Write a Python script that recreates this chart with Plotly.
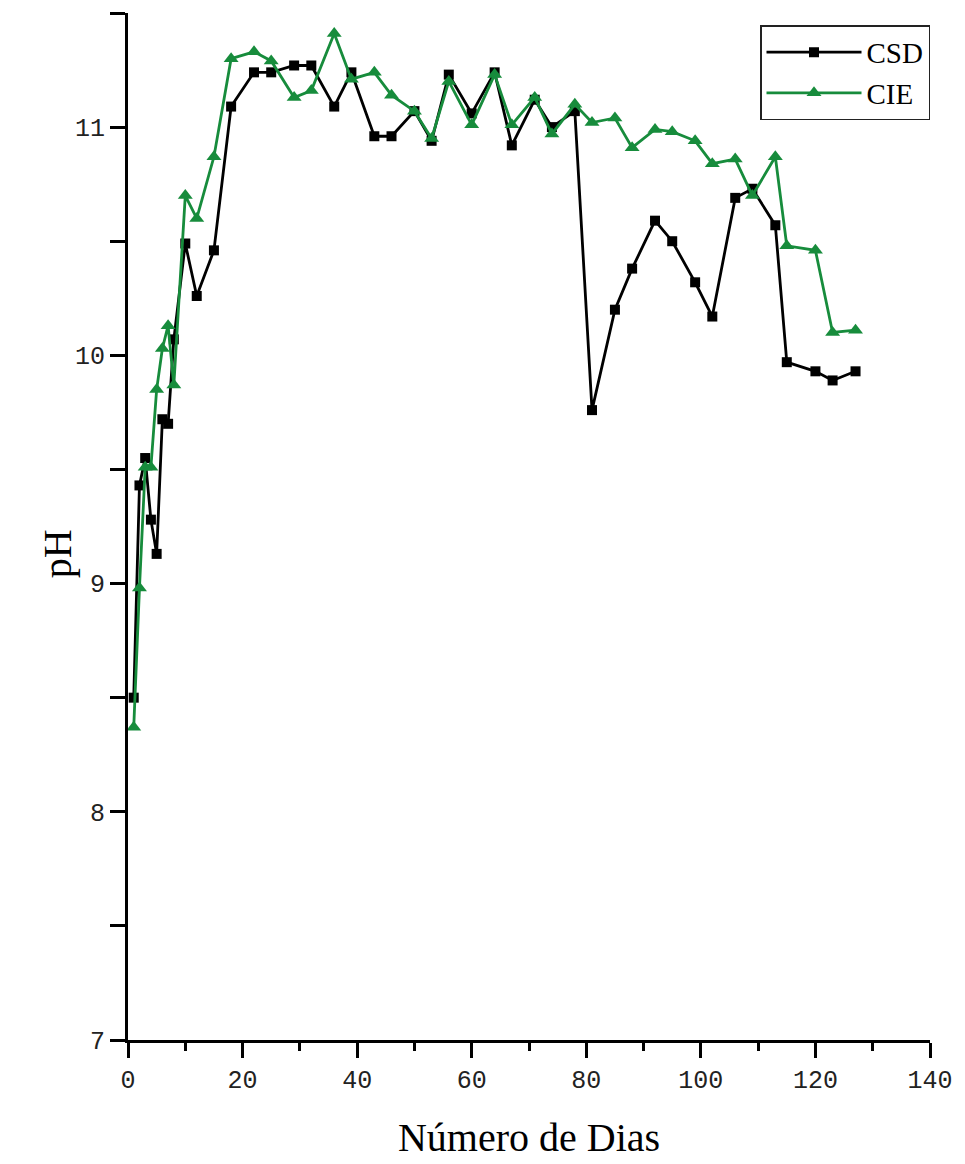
import plotly.graph_objects as go

days = [1, 2, 3, 4, 5, 6, 7, 8, 10, 12, 15, 18, 22, 25, 29, 32, 36, 39, 43, 46,
        50, 53, 56, 60, 64, 67, 71, 74, 78, 81, 85, 88, 92, 95, 99, 102, 106,
        109, 113, 115, 120, 123, 127]

csd = [8.50, 9.43, 9.55, 9.28, 9.13, 9.72, 9.70, 10.07, 10.49, 10.26, 10.46,
       11.09, 11.24, 11.24, 11.27, 11.27, 11.09, 11.24, 10.96, 10.96, 11.07,
       10.94, 11.23, 11.06, 11.24, 10.92, 11.12, 11.00, 11.07, 9.76, 10.20,
       10.38, 10.59, 10.50, 10.32, 10.17, 10.69, 10.73, 10.57, 9.97, 9.93,
       9.89, 9.93]

cie = [8.37, 8.98, 9.51, 9.51, 9.85, 10.03, 10.13, 9.87, 10.70, 10.60, 10.87,
       11.30, 11.33, 11.29, 11.13, 11.16, 11.41, 11.21, 11.24, 11.14, 11.07,
       10.95, 11.20, 11.01, 11.23, 11.01, 11.13, 10.97, 11.10, 11.02, 11.04,
       10.91, 10.99, 10.98, 10.94, 10.84, 10.86, 10.70, 10.87, 10.48, 10.46,
       10.10, 10.11]

GREEN = "#178c3c"

fig = go.Figure()
fig.add_trace(go.Scatter(
    x=days, y=csd, name="CSD", mode="lines+markers",
    line=dict(color="black", width=2.8),
    marker=dict(symbol="square", size=10, color="black"),
))
fig.add_trace(go.Scatter(
    x=days, y=cie, name="CIE", mode="lines+markers",
    line=dict(color=GREEN, width=2.8),
    marker=dict(symbol="triangle-up", size=13, color=GREEN),
))

tickfont = dict(family="Liberation Mono", size=25, color="#222")

fig.update_layout(
    width=965, height=1164,
    margin=dict(l=128, r=35, t=13, b=119),
    paper_bgcolor="white", plot_bgcolor="white",
    showlegend=True,
    legend=dict(
        x=1, xanchor="right", y=0.988, yanchor="top",
        bgcolor="white", bordercolor="#222", borderwidth=1.5,
        font=dict(family="Liberation Serif", size=29, color="black"),
        itemwidth=95, tracegroupgap=0,
    ),
    xaxis=dict(
        range=[0, 140], showgrid=False, zeroline=False,
        showline=True, linecolor="black", linewidth=3,
        ticks="outside", tick0=0, dtick=20, ticklen=15, tickwidth=3,
        tickcolor="black", tickfont=tickfont,
        minor=dict(dtick=10, ticks="outside", ticklen=8, tickwidth=3,
                   tickcolor="black", showgrid=False),
        title=dict(text="Número de Dias",
                   font=dict(family="Liberation Serif", size=40, color="black"),
                   standoff=28),
    ),
    yaxis=dict(
        range=[7, 11.5], showgrid=False, zeroline=False,
        showline=True, linecolor="black", linewidth=3,
        ticks="outside", tick0=7, dtick=1, ticklen=15, tickwidth=3,
        tickcolor="black", tickfont=tickfont,
        minor=dict(dtick=0.5, ticks="outside", ticklen=15, tickwidth=3,
                   tickcolor="black", showgrid=False),
    ),
    annotations=[dict(
        text="pH", x=-0.119, y=0.473, xref="paper", yref="paper",
        showarrow=False, textangle=-90,
        font=dict(family="Liberation Serif", size=40, color="black"),
    )],
)

fig.write_html("out.html")
